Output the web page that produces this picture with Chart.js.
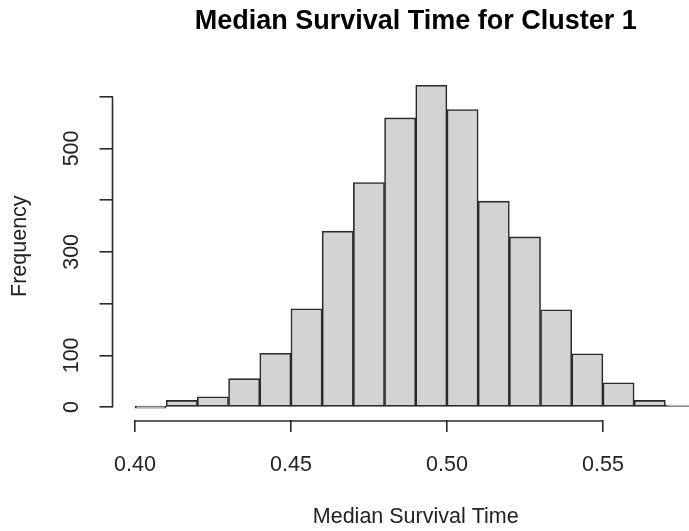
<!DOCTYPE html>
<html>
<head>
<meta charset="utf-8">
<script src="https://cdn.jsdelivr.net/npm/chart.js@4"></script>
<style>
  html, body { margin: 0; padding: 0; background: #fff; overflow: hidden; }
  #wrap { width: 745px; height: 531px; }
</style>
</head>
<body>
<div id="wrap"><canvas id="hist" width="745" height="531"></canvas></div>
<script>
// histogram bins (left edges), width 0.01
const binLefts = [0.40, 0.41, 0.42, 0.43, 0.44, 0.45, 0.46, 0.47, 0.48,
                  0.49, 0.50, 0.51, 0.52, 0.53, 0.54, 0.55, 0.56, 0.57];
const binWidth = 0.01;
const counts = [0, 13, 20, 55, 104, 190, 340, 434, 559,
                622, 575, 398, 329, 188, 103, 47, 13, 2];

const xTicks = [0.40, 0.45, 0.50, 0.55];
const yTicks = [0, 100, 200, 300, 400, 500, 600];
const yLabelled = [0, 100, 300, 500]; // R drops the labels that would overlap

const font = "'Liberation Sans', Arial, Helvetica, sans-serif";
const ink = '#2a2a2a';

// R style axes: lines only span the first to last tick
const axisLines = {
  id: 'axisLines',
  afterDraw(chart) {
    const { ctx, chartArea, scales: { x, y } } = chart;
    ctx.save();
    ctx.strokeStyle = ink;
    ctx.lineWidth = 1.6;
    ctx.beginPath();
    const yb = chartArea.bottom + 1;
    ctx.moveTo(x.getPixelForValue(xTicks[0]), yb);
    ctx.lineTo(x.getPixelForValue(xTicks[xTicks.length - 1]), yb);
    ctx.moveTo(chartArea.left, y.getPixelForValue(yTicks[0]));
    ctx.lineTo(chartArea.left, y.getPixelForValue(yTicks[yTicks.length - 1]));
    ctx.stroke();
    ctx.restore();
  }
};

const ymax = Math.max(...counts);
const span = binLefts[binLefts.length - 1] + binWidth - binLefts[0];

new Chart(document.getElementById('hist').getContext('2d'), {
  type: 'bar',
  data: {
    datasets: [{
      data: binLefts.map((b, i) => ({ x: b + binWidth / 2, y: counts[i] })),
      backgroundColor: '#d3d3d3',
      borderColor: ink,
      borderWidth: 1.6,
      borderSkipped: false,
      minBarLength: 2,
      barPercentage: 1,
      categoryPercentage: 1
    }]
  },
  options: {
    responsive: false,
    animation: false,
    devicePixelRatio: 1,
    layout: { padding: { left: 0, right: 26, top: 0, bottom: 0 } },
    plugins: {
      legend: { display: false },
      tooltip: { enabled: false },
      title: {
        display: true,
        fullSize: false,
        text: 'Median Survival Time for Cluster 1',
        color: '#000',
        font: { family: font, size: 27, weight: 'bold' },
        padding: { top: 5, bottom: 35 }
      }
    },
    scales: {
      x: {
        type: 'linear',
        offset: false,
        min: binLefts[0] - 0.04 * span,
        max: binLefts[0] + span * 1.04,
        afterBuildTicks: s => { s.ticks = xTicks.map(v => ({ value: v })); },
        afterFit: s => { s.height = 111; },
        border: { display: false },
        grid: { offset: false, drawOnChartArea: false, drawTicks: true, tickLength: 12, color: ink, lineWidth: 1.6 },
        ticks: {
          color: '#222',
          padding: 20,
          maxRotation: 0,
          font: { family: font, size: 21.5 },
          callback: v => v.toFixed(2)
        },
        title: {
          display: true,
          text: 'Median Survival Time',
          color: '#222',
          font: { family: font, size: 21.5 },
          padding: { top: 0, bottom: 1 }
        }
      },
      y: {
        min: -0.04 * ymax,
        max: ymax * 1.04,
        afterBuildTicks: s => { s.ticks = yTicks.map(v => ({ value: v })); },
        afterFit: s => { s.width = 112.5; },
        border: { display: false },
        grid: { drawOnChartArea: false, drawTicks: true, tickLength: 13, color: ink, lineWidth: 1.6 },
        ticks: {
          color: '#222',
          padding: 9.5,
          minRotation: 90,
          maxRotation: 90,
          crossAlign: 'center',
          font: { family: font, size: 21.5 },
          callback: v => yLabelled.includes(v) ? String(v) : ''
        },
        title: {
          display: true,
          text: 'Frequency',
          color: '#222',
          font: { family: font, size: 21.5 },
          padding: { top: 7, bottom: 0 }
        }
      }
    }
  },
  plugins: [axisLines]
});
</script>
</body>
</html>
